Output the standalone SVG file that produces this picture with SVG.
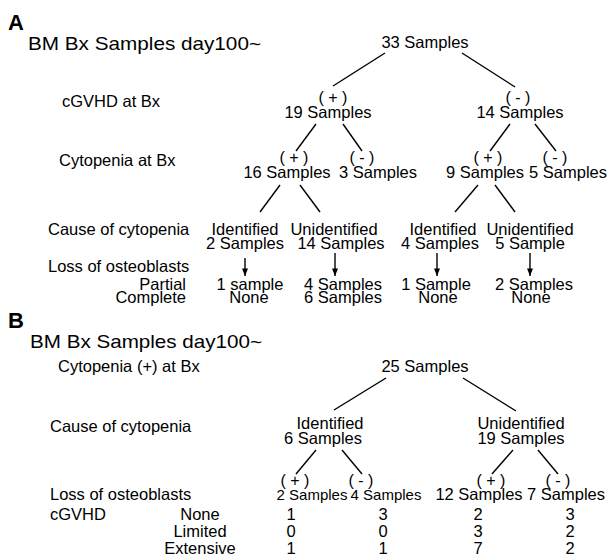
<svg xmlns="http://www.w3.org/2000/svg" width="608" height="557" viewBox="0 0 608 557">
<defs>
<style>
text{font-family:"Liberation Sans",Arial,sans-serif;font-size:16.5px;fill:#000}
.n{text-anchor:middle}
.r{text-anchor:end}
.pl{font-size:16px}
.sm{font-size:15px}
.h{font-size:22px;font-weight:bold}
.t{font-size:19px}
line{stroke:#000;stroke-width:1.4}
</style>
<marker id="ah" viewBox="0 0 10 8" refX="10" refY="4" markerWidth="8" markerHeight="6" orient="auto" markerUnits="userSpaceOnUse">
<path d="M0,0 L10,4 L0,8 Z" fill="#000"/>
</marker>
</defs>
<rect width="608" height="557" fill="#fff"/>

<g id="panelA-labels">
<text class="h" x="8" y="30">A</text>
<text class="t" x="28" y="50" textLength="233" lengthAdjust="spacingAndGlyphs">BM Bx Samples day100~</text>
<text x="62" y="107">cGVHD at Bx</text>
<text x="59" y="166">Cytopenia at Bx</text>
<text x="48" y="235">Cause of cytopenia</text>
<text x="48" y="272">Loss of osteoblasts</text>
<text class="r" x="186" y="290">Partial</text>
<text class="r" x="186" y="303">Complete</text>
</g>

<g id="a-root"><text class="n" x="425" y="48">33 Samples</text></g>
<g id="a-gvhd-pos"><text class="n pl" x="333" y="103">( + )</text><text class="n" x="328" y="118">19 Samples</text></g>
<g id="a-gvhd-neg"><text class="n pl" x="518" y="103">( - )</text><text class="n" x="520" y="118">14 Samples</text></g>
<g id="a-pp"><text class="n pl" x="294" y="163">( + )</text><text class="n" x="287" y="178">16 Samples</text></g>
<g id="a-pn"><text class="n pl" x="362" y="163">( - )</text><text class="n" x="378" y="178">3 Samples</text></g>
<g id="a-np"><text class="n pl" x="488" y="163">( + )</text><text class="n" x="485" y="178">9 Samples</text></g>
<g id="a-nn"><text class="n pl" x="555" y="163">( - )</text><text class="n" x="568" y="178">5 Samples</text></g>
<g id="a-pp-id"><text class="n" x="245" y="235">Identified</text><text class="n" x="245" y="249">2 Samples</text></g>
<g id="a-pp-un"><text class="n" x="334" y="235">Unidentified</text><text class="n" x="341" y="249">14 Samples</text></g>
<g id="a-np-id"><text class="n" x="443" y="235">Identified</text><text class="n" x="440" y="249">4 Samples</text></g>
<g id="a-np-un"><text class="n" x="530" y="235">Unidentified</text><text class="n" x="530" y="249">5 Sample</text></g>
<g id="a-pp-id-ob"><text class="n" x="250" y="290">1 sample</text><text class="n" x="249" y="303">None</text></g>
<g id="a-pp-un-ob"><text class="n" x="343" y="290">4 Samples</text><text class="n" x="343" y="303">6 Samples</text></g>
<g id="a-np-id-ob"><text class="n" x="436" y="290">1 Sample</text><text class="n" x="438" y="303">None</text></g>
<g id="a-np-un-ob"><text class="n" x="534" y="290">2 Samples</text><text class="n" x="531" y="303">None</text></g>

<g id="panelB-labels">
<text class="h" x="8" y="328">B</text>
<text class="t" x="30" y="348" textLength="232" lengthAdjust="spacingAndGlyphs">BM Bx Samples day100~</text>
<text x="58" y="372">Cytopenia (+) at Bx</text>
<text x="50" y="432">Cause of cytopenia</text>
<text x="50" y="500">Loss of osteoblasts</text>
<text x="50" y="520">cGVHD</text>
<text class="n" x="200" y="520">None</text>
<text class="n" x="200" y="537">Limited</text>
<text class="n" x="200" y="554">Extensive</text>
</g>

<g id="b-root"><text class="n" x="425" y="372">25 Samples</text></g>
<g id="b-id"><text class="n" x="330" y="429">Identified</text><text class="n" x="323" y="444">6 Samples</text></g>
<g id="b-un"><text class="n" x="521" y="429">Unidentified</text><text class="n" x="521" y="444">19 Samples</text></g>
<g id="b-id-pos"><text class="n pl" x="295" y="486">( + )</text><text class="n sm" x="312" y="500">2 Samples</text>
<text class="n" x="291" y="520">1</text><text class="n" x="291" y="537">0</text><text class="n" x="291" y="554">1</text></g>
<g id="b-id-neg"><text class="n pl" x="361" y="486">( - )</text><text class="n sm" x="386" y="500">4 Samples</text>
<text class="n" x="383" y="520">3</text><text class="n" x="383" y="537">0</text><text class="n" x="383" y="554">1</text></g>
<g id="b-un-pos"><text class="n pl" x="491" y="486">( + )</text><text class="n" x="479" y="500">12 Samples</text>
<text class="n" x="478" y="520">2</text><text class="n" x="478" y="537">3</text><text class="n" x="478" y="554">7</text></g>
<g id="b-un-neg"><text class="n pl" x="558" y="486">( - )</text><text class="n" x="566" y="500">7 Samples</text>
<text class="n" x="570" y="520">3</text><text class="n" x="570" y="537">2</text><text class="n" x="570" y="554">2</text></g>

<g id="connectors">
<line x1="385" y1="53" x2="333" y2="86"/>
<line x1="462" y1="53" x2="515" y2="87"/>
<line x1="316" y1="124" x2="296" y2="151"/>
<line x1="343" y1="124" x2="362" y2="151"/>
<line x1="510" y1="124" x2="490" y2="151"/>
<line x1="535" y1="124" x2="556" y2="151"/>
<line x1="280" y1="185" x2="260" y2="212"/>
<line x1="300" y1="185" x2="320" y2="212"/>
<line x1="478" y1="185" x2="455" y2="212"/>
<line x1="495" y1="185" x2="515" y2="212"/>
<line x1="245" y1="258" x2="245" y2="276" stroke-width="1" marker-end="url(#ah)"/>
<line x1="335" y1="253" x2="335" y2="276" stroke-width="1" marker-end="url(#ah)"/>
<line x1="437" y1="253" x2="437" y2="276" stroke-width="1" marker-end="url(#ah)"/>
<line x1="530" y1="253" x2="530" y2="276" stroke-width="1" marker-end="url(#ah)"/>
<line x1="386" y1="378" x2="334" y2="410"/>
<line x1="463" y1="378" x2="516" y2="411"/>
<line x1="316" y1="450" x2="296" y2="474"/>
<line x1="342" y1="450" x2="362" y2="474"/>
<line x1="513" y1="450" x2="492" y2="474"/>
<line x1="538" y1="450" x2="558" y2="474"/>
</g>
</svg>
